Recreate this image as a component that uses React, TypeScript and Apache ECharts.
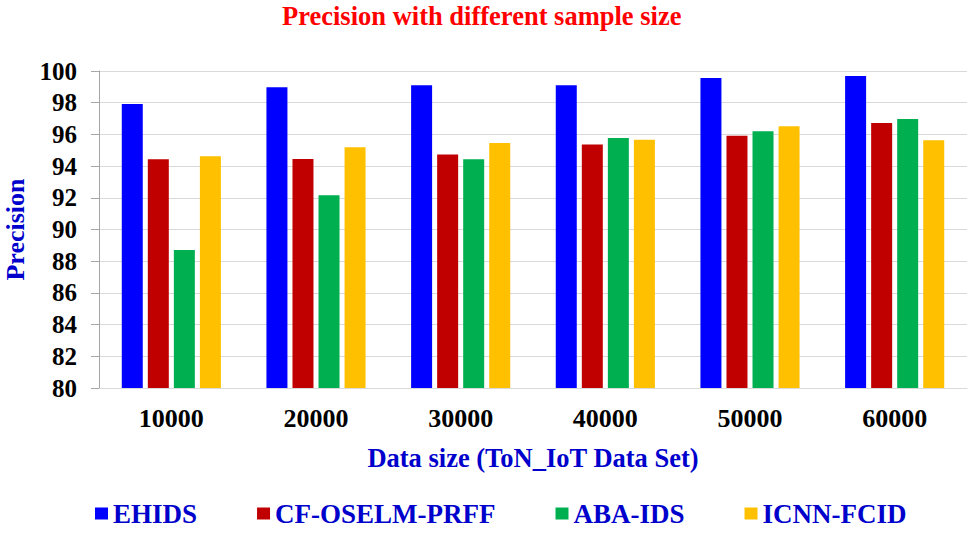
import React, { useEffect, useRef } from "react";
import * as echarts from "echarts";

const categories = ["10000", "20000", "30000", "40000", "50000", "60000"];
const seriesNames = ["EHIDS", "CF-OSELM-PRFF", "ABA-IDS", "ICNN-FCID"];
const ehids = [97.92, 98.97, 99.1, 99.1, 99.56, 99.68];
const cfOselm = [94.43, 94.45, 94.73, 95.36, 95.92, 96.72];
const abaIds = [88.7, 92.16, 94.43, 95.78, 96.2, 96.97];
const icnnFcid = [94.62, 95.19, 95.46, 95.67, 96.51, 95.63];
const colors = ["#0000FF", "#C00000", "#00B050", "#FFC000"];

const FONT = "Liberation Serif";

export default function App() {
  const ref = useRef<HTMLDivElement>(null);
  useEffect(() => {
    if (!ref.current) return;
    const chart = echarts.init(ref.current, undefined, { renderer: "svg" });
    const data = [ehids, cfOselm, abaIds, icnnFcid];
    chart.setOption({
      animation: false,
      backgroundColor: "#FFFFFF",
      textStyle: { fontFamily: FONT, fontWeight: "bold" },
      title: {
        text: "Precision with different sample size",
        left: 282,
        top: 2,
        padding: 0,
        textStyle: { color: "#FF0000", fontFamily: FONT, fontWeight: "bold", fontSize: 26.5 },
      },
      legend: {
        data: seriesNames,
        left: 95,
        top: 500,
        padding: 0,
        itemWidth: 13,
        itemHeight: 12,
        itemGap: 60,
        icon: "rect",
        textStyle: { color: "#0000CC", fontFamily: FONT, fontWeight: "bold", fontSize: 27 },
      },
      grid: { left: 99, right: 7, top: 71, bottom: 146, containLabel: false, outerBoundsMode: "none" },
      xAxis: {
        type: "category",
        data: categories,
        name: "Data size (ToN_IoT Data Set)",
        nameLocation: "middle",
        nameGap: 56,
        nameTextStyle: { color: "#0000CC", fontFamily: FONT, fontWeight: "bold", fontSize: 26.5 },
        axisLine: { lineStyle: { color: "#D9D9D9", width: 1 } },
        axisTick: { show: false },
        axisLabel: { color: "#000000", fontFamily: FONT, fontWeight: "bold", fontSize: 26, margin: 17 },
      },
      yAxis: {
        type: "value",
        min: 80,
        max: 100,
        interval: 2,
        name: "Precision",
        nameLocation: "middle",
        nameGap: 67,
        nameTextStyle: { color: "#0000CC", fontFamily: FONT, fontWeight: "bold", fontSize: 26 },
        axisLine: { show: true, lineStyle: { color: "#A6A6A6", width: 1 } },
        axisTick: { show: true, length: 8, lineStyle: { color: "#A6A6A6" } },
        axisLabel: {
          color: "#000000",
          fontFamily: FONT,
          fontWeight: "bold",
          fontSize: 25,
          margin: 22,
        },
        splitLine: { lineStyle: { color: "#D9D9D9", width: 1 } },
      },
      series: seriesNames.map((name, i) => ({
        name,
        type: "bar",
        data: data[i],
        barWidth: 21,
        barGap: "24%",
        itemStyle: { color: colors[i] },
      })),
    });
    return () => chart.dispose();
  }, []);
  return <div ref={ref} style={{ width: 974, height: 534, position: "absolute", left: 0, top: 0 }} />;
}
